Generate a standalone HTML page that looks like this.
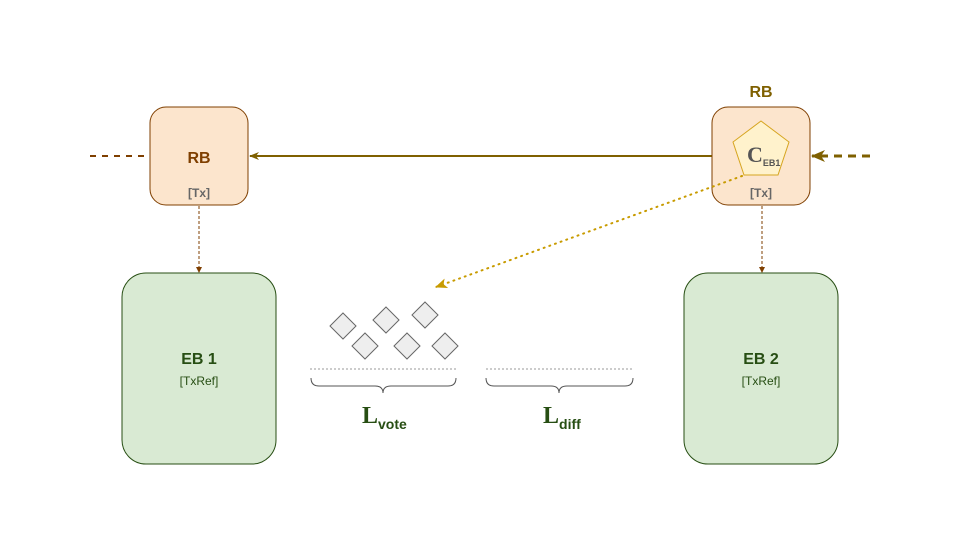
<!DOCTYPE html>
<html><head><meta charset="utf-8"><style>
html,body{margin:0;padding:0;background:#fff;width:960px;height:540px;overflow:hidden}
svg{display:block;font-family:"Liberation Sans",sans-serif}
</style></head><body>
<svg width="960" height="540" viewBox="0 0 960 540">
<defs>
<marker id="ah" markerWidth="10" markerHeight="8" refX="9" refY="4" orient="auto" markerUnits="userSpaceOnUse"><path d="M0,0 L10,4 L0,8 L3,4 Z" fill="#7f6000"/></marker>
<marker id="ahb" markerWidth="14" markerHeight="12" refX="13" refY="6" orient="auto" markerUnits="userSpaceOnUse"><path d="M0,0 L14,6 L0,12 L4,6 Z" fill="#7f6000"/></marker>
<marker id="ah2" markerWidth="6" markerHeight="6" refX="5" refY="3" orient="auto" markerUnits="userSpaceOnUse"><path d="M0,0 L6,3 L0,6 Z" fill="#7f3f00"/></marker>
<marker id="ah3" markerWidth="12" markerHeight="10" refX="11" refY="5" orient="auto" markerUnits="userSpaceOnUse"><path d="M0,0 L12,5 L0,10 L3,5 Z" fill="#c89b00"/></marker>
</defs>
<line x1="90" y1="156" x2="150" y2="156" stroke="#7f3f00" stroke-width="2" stroke-dasharray="6,6"/>
<line x1="870" y1="156" x2="812" y2="156" stroke="#7f6000" stroke-width="3" stroke-dasharray="8,6" marker-end="url(#ahb)"/>
<line x1="712" y1="156" x2="250" y2="156" stroke="#7f6000" stroke-width="2" marker-end="url(#ah)"/>
<line x1="199" y1="206" x2="199" y2="272" stroke="#7f3f00" stroke-width="1" stroke-dasharray="3,2" marker-end="url(#ah2)"/>
<line x1="762" y1="206" x2="762" y2="272" stroke="#7f3f00" stroke-width="1" stroke-dasharray="3,2" marker-end="url(#ah2)"/>
<rect x="150" y="107" width="98" height="98" rx="16" fill="#fce5cd" stroke="#7f3f00"/>
<text x="199" y="163" text-anchor="middle" font-size="16" font-weight="bold" fill="#7f3f00">RB</text>
<text x="199" y="197" text-anchor="middle" font-size="12" font-weight="bold" fill="#666">[Tx]</text>
<text x="761" y="97" text-anchor="middle" font-size="16" font-weight="bold" fill="#7f6000">RB</text>
<rect x="712" y="107" width="98" height="98" rx="16" fill="#fce5cd" stroke="#7f3f00"/>
<polygon points="761,121 789,142 778,175 744,175 733,142" fill="#fff2cc" stroke="#d6a520"/>
<text x="747" y="162" font-family="Liberation Serif,serif" font-size="22" font-weight="bold" fill="#555">C<tspan font-family="Liberation Sans,sans-serif" font-size="9" dy="4">EB1</tspan></text>
<text x="761" y="197" text-anchor="middle" font-size="12" font-weight="bold" fill="#666">[Tx]</text>
<line x1="742" y1="176" x2="436" y2="287" stroke="#c89b00" stroke-width="2" stroke-dasharray="1,5" stroke-linecap="round" marker-end="url(#ah3)"/>
<rect x="122" y="273" width="154" height="191" rx="24" fill="#d9ead3" stroke="#274e13"/>
<text x="199" y="364" text-anchor="middle" font-size="16" font-weight="bold" fill="#274e13">EB 1</text>
<text x="199" y="385" text-anchor="middle" font-size="12" fill="#274e13">[TxRef]</text>
<rect x="684" y="273" width="154" height="191" rx="24" fill="#d9ead3" stroke="#274e13"/>
<text x="761" y="364" text-anchor="middle" font-size="16" font-weight="bold" fill="#274e13">EB 2</text>
<text x="761" y="385" text-anchor="middle" font-size="12" fill="#274e13">[TxRef]</text>
<g fill="#eeeeee" stroke="#666">
<polygon points="343,313 356,326 343,339 330,326"/>
<polygon points="386,307 399,320 386,333 373,320"/>
<polygon points="425,302 438,315 425,328 412,315"/>
<polygon points="365,333 378,346 365,359 352,346"/>
<polygon points="407,333 420,346 407,359 394,346"/>
<polygon points="445,333 458,346 445,359 432,346"/>
</g>
<line x1="310" y1="369" x2="456" y2="369" stroke="#999" stroke-dasharray="2,2"/>
<line x1="486" y1="369" x2="632" y2="369" stroke="#999" stroke-dasharray="2,2"/>
<path d="M311,378 Q311,386 319,386 L375,386 Q383,386 383,393 Q383,386 391,386 L448,386 Q456,386 456,378" fill="none" stroke="#555"/>
<path d="M486,378 Q486,386 494,386 L551,386 Q559,386 559,393 Q559,386 567,386 L625,386 Q633,386 633,378" fill="none" stroke="#555"/>
<text x="362" y="423" font-family="Liberation Serif,serif" font-size="24" font-weight="bold" fill="#274e13">L<tspan font-family="Liberation Sans,sans-serif" font-size="14" dy="6">vote</tspan></text>
<text x="543" y="423" font-family="Liberation Serif,serif" font-size="24" font-weight="bold" fill="#274e13">L<tspan font-family="Liberation Sans,sans-serif" font-size="14" dy="6">diff</tspan></text>
</svg>
</body></html>
